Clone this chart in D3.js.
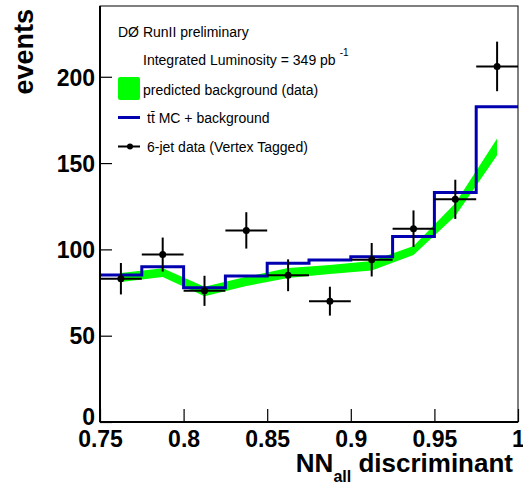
<!DOCTYPE html>
<html>
<head>
<meta charset="utf-8">
<script src="https://cdn.jsdelivr.net/npm/d3@7"></script>
<style>
  html, body { margin: 0; padding: 0; background: #fff; }
  svg { display: block; font-family: "Liberation Sans", Arial, Helvetica, sans-serif; }
</style>
</head>
<body>
<svg id="chart" width="523" height="496"></svg>
<script>
// ---- data ----
const binEdges = [0.75, 0.775, 0.8, 0.825, 0.85, 0.875, 0.9, 0.925, 0.95, 0.975, 1.0];
const mcPlusBkg = [85.1, 90.0, 77.8, 84.6, 91.9, 93.8, 95.8, 107.5, 133.0, 182.6];
const dataCounts = [83, 97, 76, 111, 85, 70, 94, 112, 129, 206];
const bkgUpper = [86.3, 89.0, 78.4, 84.1, 89.2, 91.0, 93.3, 102.0, 126.8, 164.2];
const bkgLower = [81.1, 84.0, 72.9, 78.8, 83.4, 85.7, 87.7, 96.7, 119.3, 154.6];
const xTicks = [0.75, 0.8, 0.85, 0.9, 0.95, 1];
const yTicks = [0, 50, 100, 150, 200];

// ---- layout ----
const svg = d3.select("#chart");
const x = d3.scaleLinear().domain([0.75, 1.0]).range([100, 518]);
const y = d3.scaleLinear().domain([0, 241]).range([422, 6]);

const bins = d3.range(mcPlusBkg.length).map(i => ({
  x0: binEdges[i], x1: binEdges[i + 1], c: (binEdges[i] + binEdges[i + 1]) / 2,
  mc: mcPlusBkg[i], n: dataCounts[i], hi: bkgUpper[i], lo: bkgLower[i]
}));

// green band
const band = d3.area()
  .x(d => x(d.c))
  .y0(d => y(d.lo))
  .y1(d => y(d.hi));
svg.append("path").datum(bins).attr("d", band).attr("fill", "#00ff00").attr("stroke", "none");

// blue histogram step
let stepPts = [];
bins.forEach(b => { stepPts.push([b.x0, b.mc]); stepPts.push([b.x1, b.mc]); });
const line = d3.line().x(d => x(d[0])).y(d => y(d[1]));
svg.append("path").datum(stepPts).attr("d", line)
  .attr("fill", "none").attr("stroke", "#0000b0").attr("stroke-width", 3);

// data points with error bars
const g = svg.append("g");
bins.forEach(b => {
  const e = Math.sqrt(b.n);
  g.append("line").attr("x1", x(b.x0)).attr("x2", x(b.x1)).attr("y1", y(b.n)).attr("y2", y(b.n))
    .attr("stroke", "#000").attr("stroke-width", 2);
  g.append("line").attr("x1", x(b.c)).attr("x2", x(b.c)).attr("y1", y(b.n - e)).attr("y2", y(b.n + e))
    .attr("stroke", "#000").attr("stroke-width", 2);
  g.append("circle").attr("cx", x(b.c)).attr("cy", y(b.n)).attr("r", 3.5).attr("fill", "#000");
});

// frame
svg.append("rect").attr("x", 100).attr("y", 6).attr("width", 418).attr("height", 416)
  .attr("fill", "none").attr("stroke", "#000").attr("stroke-width", 1);
svg.append("line").attr("x1", 100).attr("x2", 100).attr("y1", 6).attr("y2", 422).attr("stroke", "#000").attr("stroke-width", 2);
svg.append("line").attr("x1", 100).attr("x2", 518).attr("y1", 422).attr("y2", 422).attr("stroke", "#000").attr("stroke-width", 2);

// axes
const xAxis = d3.axisBottom(x).tickValues(xTicks).tickSizeInner(-13).tickSizeOuter(0)
  .tickFormat(d => d === 1 ? "1" : String(d));
const gx = svg.append("g").attr("transform", "translate(0,422)").call(xAxis);
gx.select(".domain").remove();
gx.selectAll(".tick line").attr("stroke", "#000").attr("stroke-width", 1.2);
gx.selectAll(".tick text").attr("y", 25).attr("dy", 0).attr("font-size", 23).attr("font-weight", "bold")
  .attr("font-family", "Liberation Sans, Arial, sans-serif").attr("fill", "#000");

const yAxis = d3.axisLeft(y).tickValues(yTicks).tickSizeInner(-12).tickSizeOuter(0);
const gy = svg.append("g").attr("transform", "translate(100,0)").call(yAxis);
gy.select(".domain").remove();
gy.selectAll(".tick line").attr("stroke", "#000").attr("stroke-width", 1.2);
gy.selectAll(".tick text").attr("x", -5).attr("dy", "0.36em").attr("font-size", 23).attr("font-weight", "bold")
  .attr("font-family", "Liberation Sans, Arial, sans-serif").attr("fill", "#000");
gy.selectAll(".tick").filter(d => d === 0).select("text").attr("dy", "0.1em");

// axis titles
svg.append("text").attr("transform", "translate(33,9) rotate(-90)")
  .attr("text-anchor", "end").attr("font-size", 27).attr("font-weight", "bold").text("events");

const xt = svg.append("text").attr("x", 513).attr("y", 472).attr("text-anchor", "end")
  .attr("font-size", 26).attr("font-weight", "bold");
xt.append("tspan").text("NN");
xt.append("tspan").attr("font-size", 16).attr("dy", 10).text("all");
xt.append("tspan").attr("dy", -10).text(" discriminant");

// legend
svg.append("text").attr("x", 118).attr("y", 37).attr("font-size", 14).text("D\u00D8  RunII preliminary");
const lum = svg.append("text").attr("x", 143).attr("y", 65).attr("font-size", 14);
lum.append("tspan").text("Integrated Luminosity = 349 pb");
lum.append("tspan").attr("font-size", 10).attr("dy", -9).attr("dx", 4).text("-1");

svg.append("rect").attr("x", 118).attr("y", 77).attr("width", 22).attr("height", 23).attr("rx", 2)
  .attr("fill", "#00ff00");
svg.append("text").attr("x", 143).attr("y", 95).attr("font-size", 14).text("predicted background (data)");

svg.append("line").attr("x1", 118).attr("x2", 140).attr("y1", 117.5).attr("y2", 117.5)
  .attr("stroke", "#0000b0").attr("stroke-width", 3);
svg.append("text").attr("x", 147).attr("y", 123).attr("font-size", 14).text("tt\u0304 MC + background");

svg.append("line").attr("x1", 118).attr("x2", 140).attr("y1", 146.5).attr("y2", 146.5)
  .attr("stroke", "#000").attr("stroke-width", 2);
svg.append("circle").attr("cx", 130).attr("cy", 146.5).attr("r", 3).attr("fill", "#000");
svg.append("text").attr("x", 147).attr("y", 152).attr("font-size", 14).text("6-jet data (Vertex Tagged)");
</script>
</body>
</html>
